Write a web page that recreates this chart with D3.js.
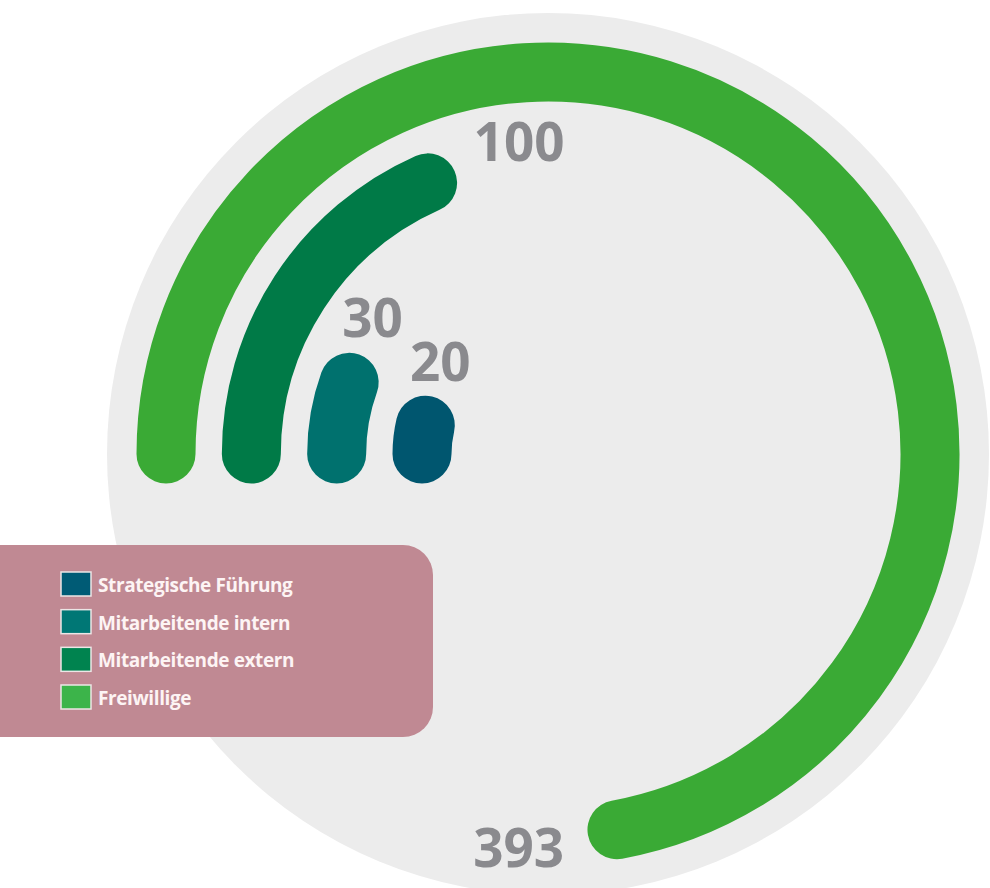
<!DOCTYPE html>
<html>
<head>
<meta charset="utf-8">
<script src="https://cdn.jsdelivr.net/npm/d3@7"></script>
<style>
  body { margin: 0; background: #fff; }
  svg { display: block; }
</style>
</head>
<body>
<svg id="chart" width="990" height="888"></svg>
<script>
// rings from the inside out
const categories = ['Strategische Führung', 'Mitarbeitende intern', 'Mitarbeitende extern', 'Freiwillige'];
const values = [20, 30, 100, 393];
const arcColors = ['#00566f', '#00716e', '#007a47', '#3aaa35'];
const legendColors = ['#005b75', '#007775', '#00834f', '#3cb44a'];

const width = 990, height = 888;
const cx = 548, cy = 454;
const band = 59;

const svg = d3.select('#chart');

// grey disc behind everything
svg.append('circle')
  .attr('cx', cx).attr('cy', cy).attr('r', 441)
  .attr('fill', '#ececec');

const radius = d3.scalePoint().domain(categories).range([126, 382]);
// one full turn ~ 545 people
const angle = d3.scaleLinear().domain([0, 545]).range([0, 2 * Math.PI]);
const start = -Math.PI / 2;

const rows = categories.map((c, i) => ({ cat: c, value: values[i], color: arcColors[i] }));

const g = svg.append('g').attr('transform', `translate(${cx},${cy})`);

// centre line of each ring, thick stroke with round caps
const arc = d3.arc()
  .innerRadius(d => radius(d.cat))
  .outerRadius(d => radius(d.cat))
  .startAngle(start)
  .endAngle(d => start + angle(d.value));

g.selectAll('.ring')
  .data(rows)
  .enter()
  .append('path')
  .attr('class', 'ring')
  .attr('d', arc)
  .attr('fill', 'none')
  .attr('stroke', d => d.color)
  .attr('stroke-width', band)
  .attr('stroke-linecap', 'round')
  .attr('stroke-linejoin', 'round');

// value labels just past the end of each ring
const fontSize = 53;
const capH = fontSize * 0.72;
g.selectAll('.val')
  .data(rows)
  .enter()
  .append('text')
  .attr('class', 'val')
  .attr('text-anchor', 'middle')
  .attr('font-family', '"Open Sans", sans-serif')
  .attr('font-weight', 700)
  .attr('font-size', fontSize)
  .attr('fill', '#8a8a8e')
  .text(d => d3.format('d')(d.value))
  .each(function (d) {
    const a = start + angle(d.value);
    const r = radius(d.cat);
    const px = r * Math.sin(a), py = -r * Math.cos(a);
    const tx = Math.cos(a), ty = Math.sin(a);
    const w = this.getBBox().width;
    const dist = band / 2 + 8 + Math.abs(tx) * w * 0.66 + Math.abs(ty) * capH / 2;
    d3.select(this)
      .attr('x', px + tx * dist)
      .attr('y', py + ty * dist + capH / 2);
  });

// legend box
const legend = svg.append('g');
legend.append('rect')
  .attr('x', -30).attr('y', 545)
  .attr('width', 463).attr('height', 192)
  .attr('rx', 30)
  .attr('fill', '#c08993');

const rowY = d3.scalePoint().domain(categories).range([572, 685]);

const item = legend.selectAll('.item')
  .data(categories)
  .enter()
  .append('g')
  .attr('class', 'item')
  .attr('transform', d => `translate(61,${rowY(d)})`);

item.append('rect')
  .attr('width', 30).attr('height', 24)
  .attr('fill', (d, i) => legendColors[i])
  .attr('stroke', '#ece6e6')
  .attr('stroke-width', 1.5);

item.append('text')
  .attr('x', 37).attr('y', 20)
  .attr('font-family', '"Open Sans", sans-serif')
  .attr('font-weight', 700)
  .attr('font-size', 19)
  .attr('letter-spacing', -0.4)
  .attr('fill', '#fdf4f4')
  .text(d => d);
</script>
</body>
</html>
